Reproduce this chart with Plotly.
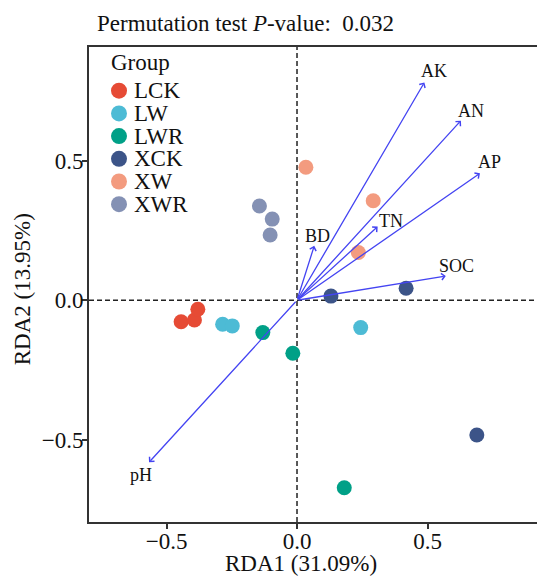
import plotly.graph_objects as go

# Sample scores on the first two RDA axes, by treatment group
groups = ["LCK", "LW", "LWR", "XCK", "XW", "XWR"]
group_colors = ["#E64B35", "#4DBBD5", "#00A087", "#3C5488", "#F39B7F", "#8491B4"]

lck_rda1 = [-0.444, -0.393, -0.380]
lck_rda2 = [-0.077, -0.071, -0.032]
lw_rda1 = [-0.285, -0.248, 0.244]
lw_rda2 = [-0.086, -0.092, -0.098]
lwr_rda1 = [-0.131, -0.016, 0.181]
lwr_rda2 = [-0.116, -0.190, -0.672]
xck_rda1 = [0.130, 0.418, 0.689]
xck_rda2 = [0.015, 0.043, -0.483]
xw_rda1 = [0.034, 0.292, 0.235]
xw_rda2 = [0.477, 0.357, 0.171]
xwr_rda1 = [-0.144, -0.095, -0.103]
xwr_rda2 = [0.338, 0.291, 0.234]

# Environmental factor loadings (biplot arrows)
env_factors = ["AK", "AN", "AP", "SOC", "TN", "BD", "pH"]
env_rda1 = [0.488, 0.628, 0.701, 0.570, 0.309, 0.066, -0.567]
env_rda2 = [0.781, 0.644, 0.455, 0.087, 0.264, 0.195, -0.581]

rda1_pct = 31.09
rda2_pct = 13.95
perm_p = 0.032

x_ticks = [-0.5, 0.0, 0.5]
y_ticks = [-0.5, 0.0, 0.5]

# ---- styling ----
FONT = "Liberation Serif, Times New Roman, serif"
AXIS_COLOR = "#333333"
ARROW_COLOR = "#4444F2"
W, H = 537, 576
M_L, M_R, M_T, M_B = 89, 0, 47, 54
PLOT_W = W - M_L - M_R
PLOT_H = H - M_T - M_B

# label offsets (px) from each arrow tip
label_shift = {
    "AK": (10, 11), "AN": (10, 10), "AP": (10, 11), "SOC": (11, 10),
    "TN": (13, 6), "BD": (3, 10), "pH": (-8, -13),
}

scores = [
    (lck_rda1, lck_rda2), (lw_rda1, lw_rda2), (lwr_rda1, lwr_rda2),
    (xck_rda1, xck_rda2), (xw_rda1, xw_rda2), (xwr_rda1, xwr_rda2),
]

fig = go.Figure()

for name, color, (xs, ys) in zip(groups, group_colors, scores):
    fig.add_trace(go.Scatter(
        x=xs, y=ys, mode="markers", name=name,
        marker=dict(size=15, color=color, line=dict(width=0)),
        showlegend=False, hoverinfo="skip",
    ))

annotations = []
shapes = []

# zero reference lines
shapes.append(dict(type="line", xref="x", yref="paper", x0=0, x1=0, y0=0, y1=1,
                   line=dict(color="#222222", width=1.5, dash="5px,3px"), layer="below"))
shapes.append(dict(type="line", xref="paper", yref="y", x0=0, x1=1, y0=0, y1=0,
                   line=dict(color="#222222", width=1.5, dash="5px,3px"), layer="below"))

# biplot arrows and labels
for name, ex, ey in zip(env_factors, env_rda1, env_rda2):
    annotations.append(dict(
        x=ex, y=ey, xref="x", yref="y", ax=0, ay=0, axref="x", ayref="y",
        text="", showarrow=True, arrowhead=4, arrowsize=1.0, arrowwidth=1.3,
        arrowcolor=ARROW_COLOR, standoff=0,
    ))
    dx, dy = label_shift[name]
    annotations.append(dict(
        x=ex, y=ey, xref="x", yref="y", text=name, showarrow=False,
        xanchor="center", yanchor="middle", xshift=dx, yshift=dy,
        font=dict(family=FONT, size=18, color="#111111"),
    ))

# manual legend in the top-left corner
LEG_MARK_X = 30
LEG_TEXT_X = 43
LEG_ROW0 = 43.7
LEG_STEP = 22.7
annotations.append(dict(
    x=0, y=1, xref="paper", yref="paper", text="Group", showarrow=False,
    xanchor="left", yanchor="middle", xshift=20, yshift=-15.3,
    font=dict(family=FONT, size=23, color="#111111"),
))
for i, (name, color) in enumerate(zip(groups, group_colors)):
    off = LEG_ROW0 + i * LEG_STEP
    shapes.append(dict(
        type="circle", xref="paper", yref="paper",
        xsizemode="pixel", ysizemode="pixel",
        xanchor=LEG_MARK_X / PLOT_W, yanchor=1 - off / PLOT_H,
        x0=-8, x1=8, y0=-8, y1=8,
        fillcolor=color, line=dict(width=0),
    ))
    annotations.append(dict(
        x=0, y=1, xref="paper", yref="paper", text=name, showarrow=False,
        xanchor="left", yanchor="middle", xshift=LEG_TEXT_X, yshift=-off,
        font=dict(family=FONT, size=23, color="#111111"),
    ))

# title and axis titles
annotations.append(dict(
    x=0, y=1, xref="paper", yref="paper",
    text=f"Permutation test <i>P</i>-value:  {perm_p:.3f}", showarrow=False,
    xanchor="left", yanchor="middle", xshift=6, yshift=24,
    font=dict(family=FONT, size=23, color="#111111"),
))
annotations.append(dict(
    x=(301 - M_L) / PLOT_W, y=0, xref="paper", yref="paper",
    text=f"RDA1 ({rda1_pct:.2f}%)", showarrow=False,
    xanchor="center", yanchor="middle", yshift=-41,
    font=dict(family=FONT, size=23, color="#111111"),
))
annotations.append(dict(
    x=0, y=0.49, xref="paper", yref="paper",
    text=f"RDA2 ({rda2_pct:.2f}%)", showarrow=False, textangle=-90,
    xanchor="center", yanchor="middle", xshift=-67,
    font=dict(family=FONT, size=23, color="#111111"),
))

axis_common = dict(
    showgrid=False, zeroline=False, showline=True, linecolor=AXIS_COLOR, linewidth=1.8,
    ticks="outside", ticklen=5, tickwidth=1.5, tickcolor=AXIS_COLOR,
    tickformat=".1f", tickfont=dict(family=FONT, size=23, color="#111111"),
)

fig.update_layout(
    width=W, height=H, autosize=False,
    margin=dict(l=M_L, r=M_R, t=M_T, b=M_B),
    paper_bgcolor="white", plot_bgcolor="white",
    xaxis=dict(range=[-0.797, 0.9195], tickvals=x_ticks, mirror=True,
               ticklabelstandoff=-8, **axis_common),
    yaxis=dict(range=[-0.795, 0.908], tickvals=y_ticks, mirror=False,
               ticklabelstandoff=-6, **axis_common),
    annotations=annotations, shapes=shapes,
    showlegend=False,
)

fig.write_html("out.html")
